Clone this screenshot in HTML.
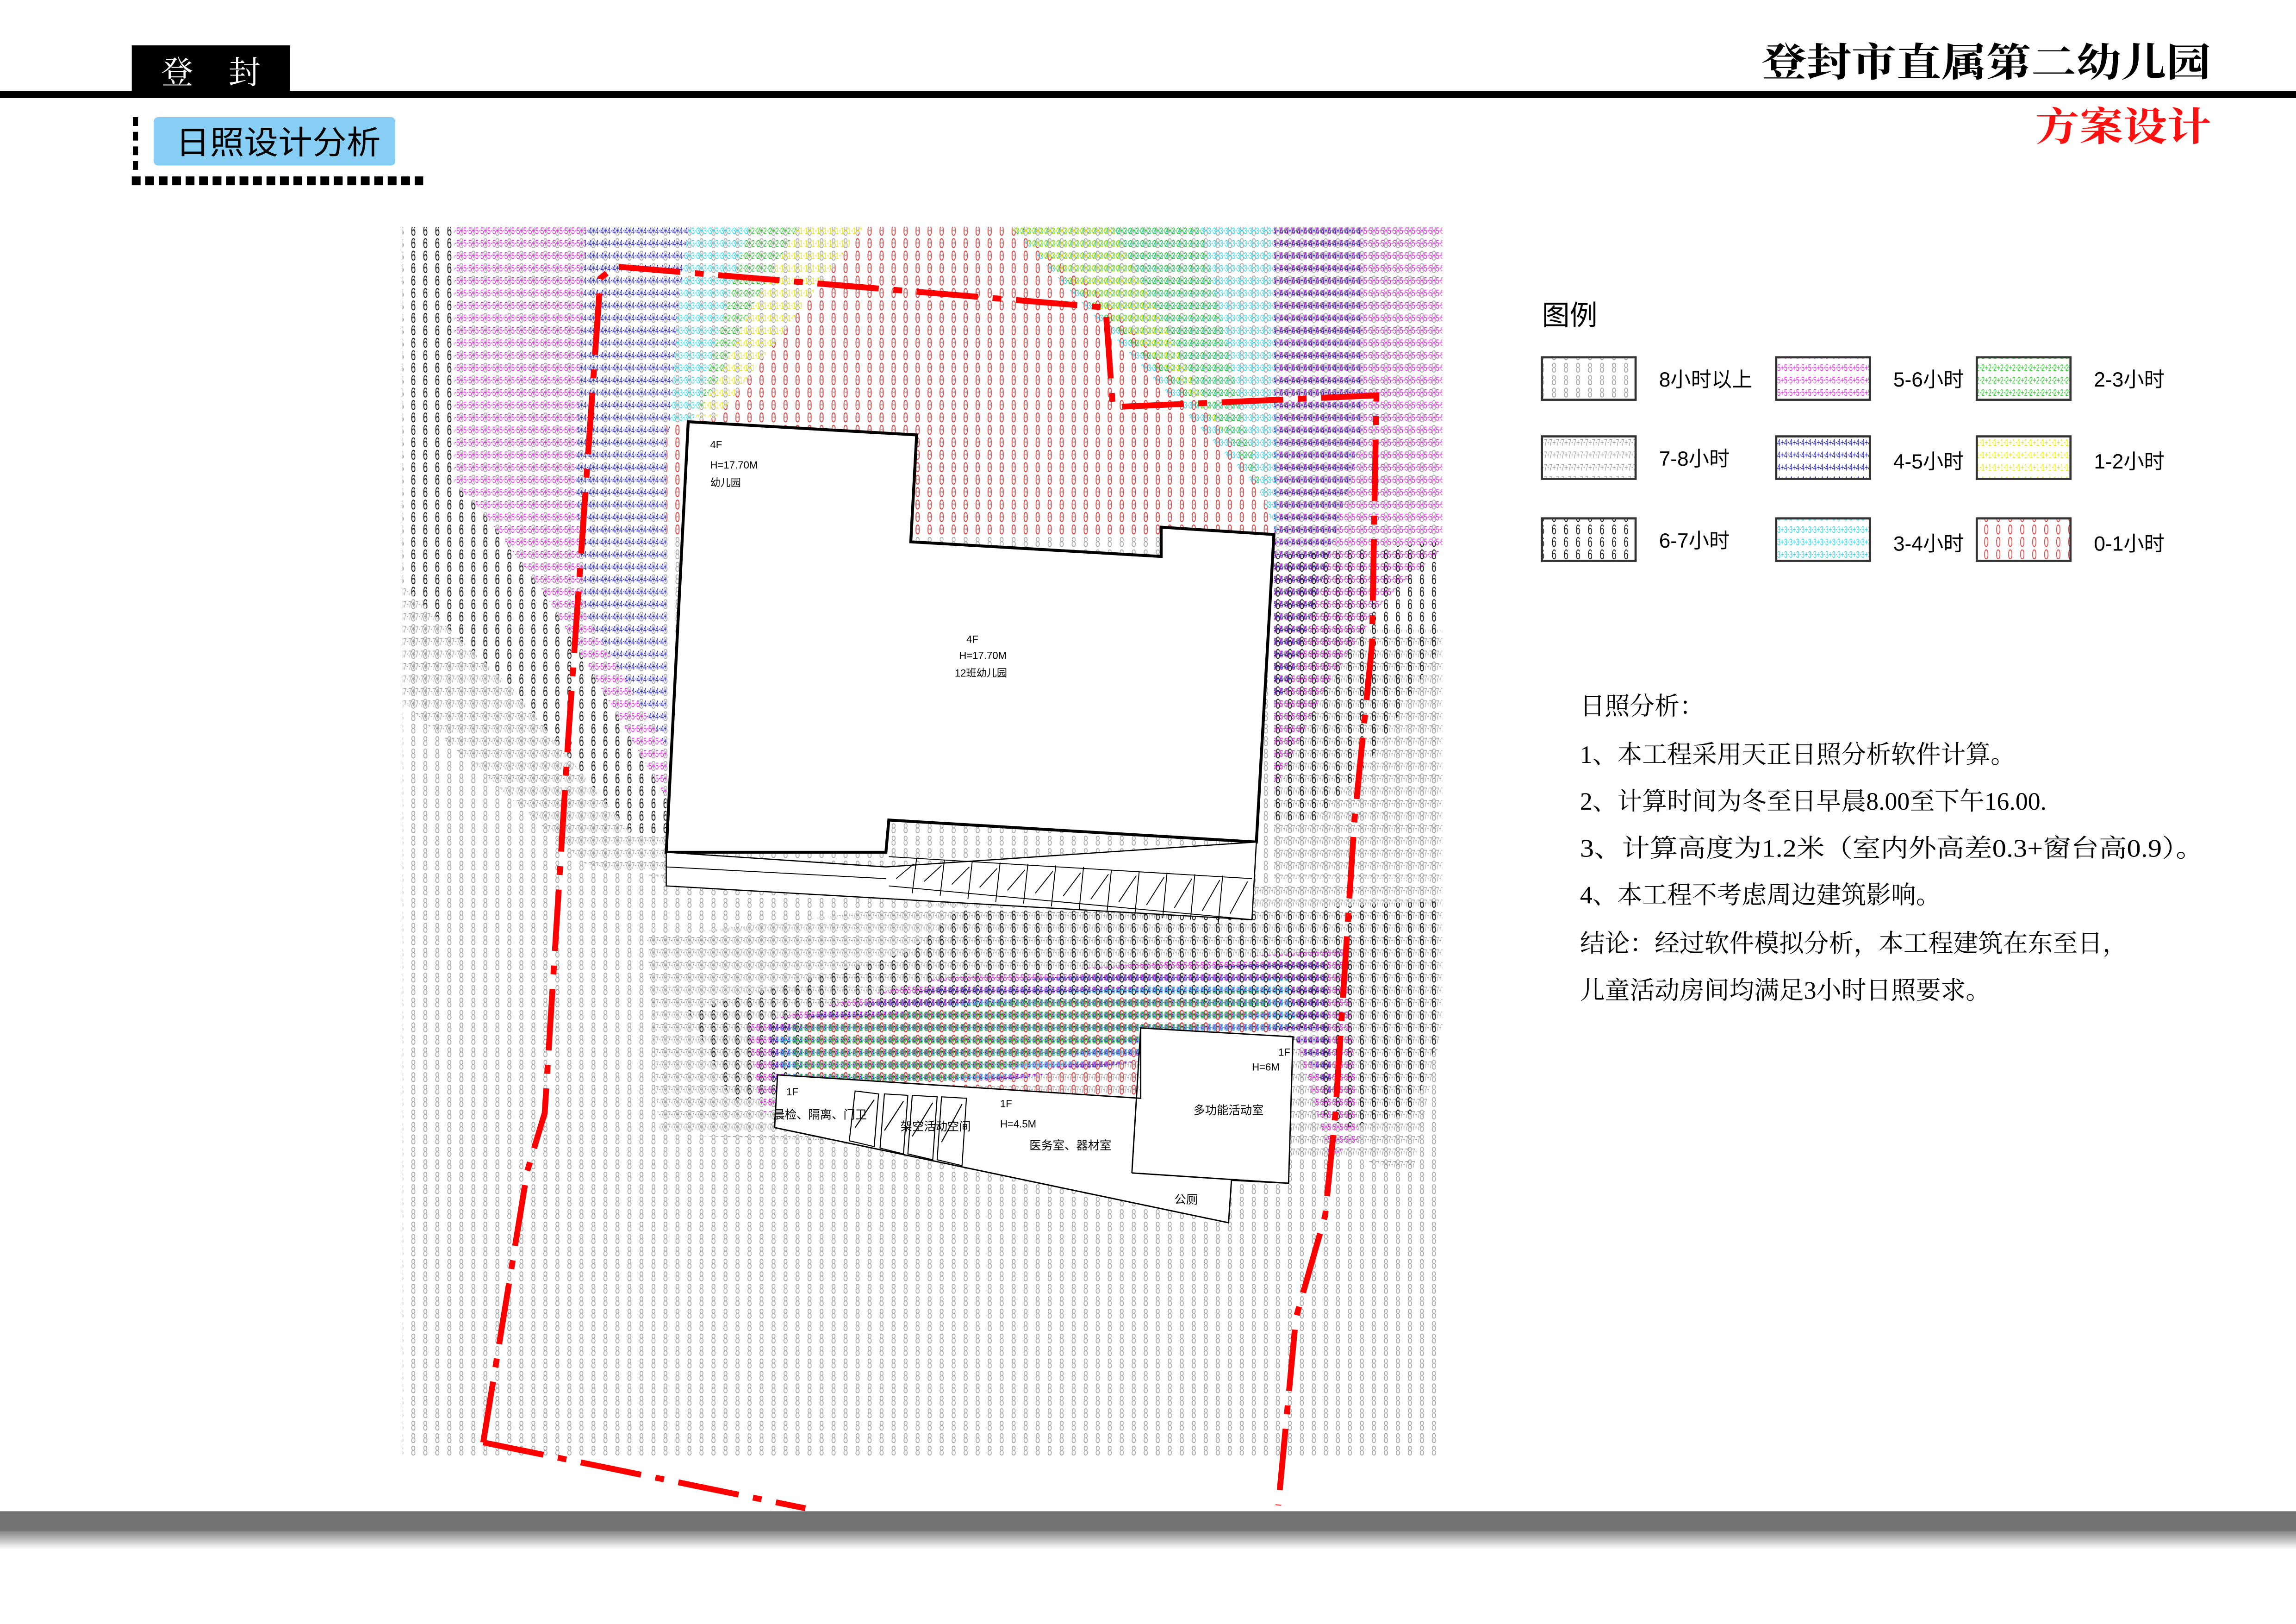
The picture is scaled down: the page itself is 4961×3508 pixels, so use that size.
<!DOCTYPE html>
<html><head><meta charset="utf-8"><style>
html,body{margin:0;padding:0;background:#fff;}
svg{display:block;}
</style></head><body>
<svg xmlns="http://www.w3.org/2000/svg" width="4961" height="3508" viewBox="0 0 1568 1109" preserveAspectRatio="none" font-family="'Liberation Sans','Noto Sans CJK SC',sans-serif">
<defs>
<pattern id="p8" width="8.2" height="8.5" patternUnits="userSpaceOnUse"><text transform="translate(1.8,7.8) scale(0.62,1)" font-size="9.6" fill="#a8a8a8">8</text></pattern>
<pattern id="p7" width="8.2" height="8.5" patternUnits="userSpaceOnUse"><text transform="translate(0.1,7.0) scale(0.62,1)" font-size="6.6" fill="#989898">7+7+</text></pattern>
<pattern id="p6" width="8.2" height="8.5" patternUnits="userSpaceOnUse"><text transform="translate(1.8,7.8) scale(0.62,1)" font-size="9.6" fill="#222">6</text></pattern>
<pattern id="p5" width="8.2" height="8.5" patternUnits="userSpaceOnUse"><text transform="translate(0.1,7.0) scale(0.62,1)" font-size="6.6" fill="#e020e0">5+5+</text></pattern>
<pattern id="p4" width="8.2" height="8.5" patternUnits="userSpaceOnUse"><text transform="translate(0.1,7.0) scale(0.62,1)" font-size="6.6" fill="#1a1ac0">4+4+</text></pattern>
<pattern id="p3" width="8.2" height="8.5" patternUnits="userSpaceOnUse"><text transform="translate(0.1,7.0) scale(0.62,1)" font-size="6.6" fill="#20d8f0">3+3+</text></pattern>
<pattern id="p2" width="8.2" height="8.5" patternUnits="userSpaceOnUse"><text transform="translate(0.1,7.0) scale(0.62,1)" font-size="6.6" fill="#20c820">2+2+</text></pattern>
<pattern id="p1" width="8.2" height="8.5" patternUnits="userSpaceOnUse"><text transform="translate(0.1,7.0) scale(0.62,1)" font-size="6.6" fill="#e6e600">1+1+</text></pattern>
<pattern id="p0" width="8.2" height="8.5" patternUnits="userSpaceOnUse"><text transform="translate(1.8,7.8) scale(0.62,1)" font-size="9.6" fill="#e04848">0</text></pattern>
<linearGradient id="gb" x1="0" y1="0" x2="0" y2="1"><stop offset="0" stop-color="#8a8a8a"/><stop offset="1" stop-color="#fff"/></linearGradient>
</defs>

<!-- header -->
<rect x="90" y="31" width="108" height="33" fill="#000"/>
<text x="110" y="57" font-size="22" fill="#fff" font-family="'Liberation Serif','Noto Serif CJK SC',serif">登</text>
<text x="156" y="57" font-size="22" fill="#fff" font-family="'Liberation Serif','Noto Serif CJK SC',serif">封</text>
<rect x="0" y="62" width="1568" height="5" fill="#000"/>
<text x="1203" y="52" font-size="27" font-weight="bold" textLength="307" lengthAdjust="spacingAndGlyphs" font-family="'Liberation Serif','Noto Serif CJK SC',serif">登封市直属第二幼儿园</text>
<text x="1390" y="96" font-size="27" font-weight="bold" fill="#ff1010" textLength="120" lengthAdjust="spacingAndGlyphs" font-family="'Liberation Serif','Noto Serif CJK SC',serif">方案设计</text>
<rect x="105" y="80" width="165" height="33" rx="3" fill="#86cef4"/>
<text x="120" y="105" font-size="22" textLength="140" lengthAdjust="spacingAndGlyphs" font-family="'Liberation Sans','Noto Sans CJK SC',sans-serif">日照设计分析</text>
<line x1="92.5" y1="80" x2="92.5" y2="116" stroke="#000" stroke-width="3.5" stroke-dasharray="6,4"/>
<line x1="90" y1="123.5" x2="289" y2="123.5" stroke="#000" stroke-width="6" stroke-dasharray="6,3.2"/>

<!-- sunlight grid -->
<rect x="275" y="155" width="710" height="840" fill="url(#p8)"/>
<polygon points="275,400 350,470 430,568 455,570 455,600 400,590 275,480" fill="url(#p7)"/>
<polygon points="275,155 310,155 310,330 330,350 372,405 455,545 455,570 430,568 350,470 275,400" fill="url(#p6)"/>
<polygon points="310,155 400,155 393,330 400,420 455,510 455,545 372,405 330,350 310,330" fill="url(#p5)"/>
<polygon points="400,155 470,155 462,220 458,290 455,300 455,510 400,420 393,330" fill="url(#p4)"/>
<polygon points="470,155 512,155 495,212 475,285 458,290 462,220" fill="url(#p3)"/>
<polygon points="512,155 545,155 512,212 490,260 475,285 495,212" fill="url(#p2)"/>
<polygon points="545,155 590,155 546,212 490,285 475,285 490,260 512,212" fill="url(#p1)"/>
<polygon points="870,430 985,430 985,600 870,600" fill="url(#p7)"/>
<polygon points="870,380 985,370 985,440 935,520 900,560 870,560" fill="url(#p6)"/>
<polygon points="870,155 985,155 985,375 945,410 905,470 880,520 870,540" fill="url(#p5)"/>
<polygon points="870,155 930,155 930,300 905,390 880,470 870,480" fill="url(#p4)"/>
<polygon points="690,155 870,155 872,365 860,335" fill="url(#p3)"/>
<polygon points="690,155 820,155 850,290 862,335 840,300" fill="url(#p2)"/>
<polygon points="690,155 760,155 815,260 840,300 800,255" fill="url(#p1)"/>
<polygon points="590,155 690,155 745,195 800,255 840,300 862,335 870,365 455,365 455,290 490,285 546,212" fill="url(#p0)"/>

<!-- lower zones -->
<polygon points="442,640 700,610 985,600 985,700 965,800 920,790 450,775" fill="url(#p7)"/>
<polygon points="654,622 860,622 985,615 985,700 965,760 920,770 900,760 900,700 500,752 470,690 620,650" fill="url(#p6)"/>
<polygon points="510,700 640,668 920,648 928,780 908,790 885,710 520,760" fill="url(#p5)"/>
<polygon points="525,700 650,672 905,655 910,750 885,710 530,760" fill="url(#p4)"/>
<polygon points="530,705 690,680 880,668 885,700 540,760" fill="url(#p3)"/>
<polygon points="540,700 700,682 860,676 870,690 545,760" fill="url(#p2)"/>
<polygon points="548,696 780,680 870,690 870,705 780,750 548,748" fill="url(#p0)"/>

<!-- main building -->
<polygon points="470,288 626,297 622,370 793,380 793,360 870,365 858,575 607,560 605,582 455,582" fill="#fff" stroke="#000" stroke-width="2"/>
<text x="485" y="306" font-size="7">4F</text>
<text x="485" y="320" font-size="7">H=17.70M</text>
<text x="485" y="332" font-size="7">幼儿园</text>
<text x="660" y="439" font-size="7">4F</text>
<text x="655" y="450" font-size="7">H=17.70M</text>
<text x="652" y="462" font-size="7">12班幼儿园</text>
<!-- parking strip -->
<polygon points="455,582 605,592 858,575 855,628 455,605" fill="#fff" stroke="#000" stroke-width="0.8"/>
<line x1="455" y1="592" x2="605" y2="600" stroke="#000" stroke-width="0.6"/>
<path d="M607,585 L855,600 M607,605 L855,628 M626,586 L623,610 M645,587 L642,612 M664,588 L661,614 M683,589 L680,616 M702,590 L699,617 M721,591 L718,619 M740,592 L737,621 M759,594 L756,623 M778,595 L775,625 M797,596 L794,627 M816,597 L813,628 M835,598 L832,630 M612,600 L624,590 M631,602 L643,591 M650,604 L662,592 M669,606 L681,593 M688,608 L700,594 M707,610 L719,595 M726,612 L738,596 M745,614 L757,597 M764,616 L776,598 M783,618 L795,599 M802,620 L814,600 M821,622 L833,601 M840,624 L852,602" stroke="#000" stroke-width="0.6" fill="none"/>

<!-- lower building -->
<polygon points="531,734 779,750 779,702 883,708 880,808 841,806 839,835 529,770" fill="#fff" stroke="#000" stroke-width="0.9"/>
<line x1="779" y1="702" x2="773" y2="801" stroke="#000" stroke-width="0.9"/>
<line x1="773" y1="801" x2="880" y2="808" stroke="#000" stroke-width="0.9"/>
<path d="M584,745 L600,747 L597,783 L580,779 Z M604,747 L620,748 L617,788 L601,784 Z M623,748 L640,749 L637,792 L620,788 Z M643,749 L660,750 L657,796 L640,792 Z M584,770 L597,751 M604,772 L617,752 M623,776 L637,753 M643,780 L657,754" stroke="#000" stroke-width="0.7" fill="none"/>
<text x="537" y="748" font-size="7">1F</text>
<text x="528" y="764" font-size="8">晨检、隔离、门卫</text>
<text x="615" y="772" font-size="8">架空活动空间</text>
<text x="683" y="756" font-size="7">1F</text>
<text x="683" y="770" font-size="7">H=4.5M</text>
<text x="703" y="785" font-size="8">医务室、器材室</text>
<text x="815" y="761" font-size="8">多功能活动室</text>
<text x="873" y="721" font-size="7">1F</text>
<text x="855" y="731" font-size="7">H=6M</text>
<text x="802" y="822" font-size="8">公厕</text>

<!-- red boundary -->
<polyline points="330,985 360,800 372,760 388,505 410,190 420,182 755,210 760,278 940,270 937,440 925,560 912,760 905,830 885,900 873,1028" fill="none" stroke="#ff0000" stroke-width="4" stroke-dasharray="42,10,6,10"/>
<polyline points="330,985 550,1030" fill="none" stroke="#ff0000" stroke-width="4" stroke-dasharray="42,10,6,10"/>

<!-- legend -->
<text x="1053" y="222" font-size="19">图例</text>
<g stroke="#333" stroke-width="1.5">
<rect x="1053" y="244" width="64" height="29" fill="url(#p8)"/>
<rect x="1053" y="298" width="64" height="29" fill="url(#p7)"/>
<rect x="1053" y="354" width="64" height="29" fill="url(#p6)"/>
<rect x="1213" y="244" width="64" height="29" fill="url(#p5)"/>
<rect x="1213" y="298" width="64" height="29" fill="url(#p4)"/>
<rect x="1213" y="354" width="64" height="29" fill="url(#p3)"/>
<rect x="1350" y="244" width="64" height="29" fill="url(#p2)"/>
<rect x="1350" y="298" width="64" height="29" fill="url(#p1)"/>
<rect x="1350" y="354" width="64" height="29" fill="url(#p0)"/>
</g>
<g font-size="14">
<text x="1133" y="264">8小时以上</text>
<text x="1133" y="318">7-8小时</text>
<text x="1133" y="374">6-7小时</text>
<text x="1293" y="264">5-6小时</text>
<text x="1293" y="320">4-5小时</text>
<text x="1293" y="376">3-4小时</text>
<text x="1430" y="264">2-3小时</text>
<text x="1430" y="320">1-2小时</text>
<text x="1430" y="376">0-1小时</text>
</g>

<!-- analysis -->
<g font-size="17" font-family="'Liberation Serif','Noto Serif CJK SC',serif">
<text x="1079" y="488">日照分析：</text>
<text x="1079" y="521">1、本工程采用天正日照分析软件计算。</text>
<text x="1079" y="553">2、计算时间为冬至日早晨8.00至下午16.00.</text>
<text x="1079" y="585" textLength="426" lengthAdjust="spacingAndGlyphs">3、计算高度为1.2米（室内外高差0.3+窗台高0.9）。</text>
<text x="1079" y="617">4、本工程不考虑周边建筑影响。</text>
<text x="1079" y="650">结论：经过软件模拟分析，本工程建筑在东至日，</text>
<text x="1079" y="682">儿童活动房间均满足3小时日照要求。</text>
</g>

<!-- bottom band -->
<rect x="0" y="1032" width="1568" height="14" fill="#737373"/>
<rect x="0" y="1046" width="1568" height="12" fill="url(#gb)"/>
</svg>
</body></html>
